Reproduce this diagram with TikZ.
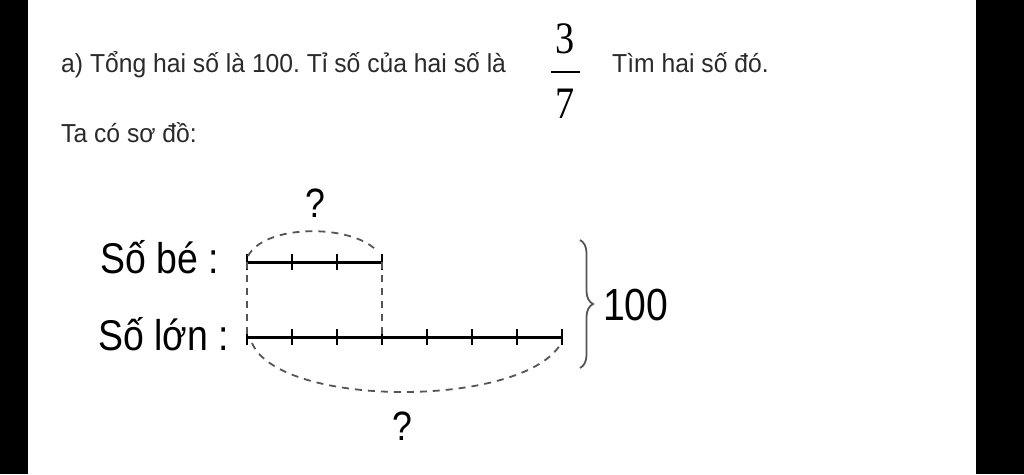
\documentclass[tikz,border=0pt]{standalone}
\usepackage{fontspec}
\setmainfont{Liberation Sans}
\newfontfamily\txtfont[FakeStretch=0.95]{Liberation Sans}
\newfontfamily\dgfont[FakeStretch=0.87]{Liberation Sans}
\newfontfamily\fracfont[FakeStretch=0.85]{Liberation Serif}
\usetikzlibrary{decorations.pathreplacing,calc}
\frenchspacing
\definecolor{txtgray}{HTML}{2A2A2A}
\definecolor{dashgray}{HTML}{555555}
\tikzset{
  body/.style={anchor=base west, inner sep=0pt, text=txtgray, font=\txtfont\fontsize{26}{30}\selectfont},
  fracdigit/.style={anchor=base, inner sep=0pt, text=black, font=\fracfont\fontsize{45}{50}\selectfont},
  dglabel/.style={anchor=base west, inner sep=0pt, text=black, font=\dgfont\fontsize{43}{48}\selectfont},
  qmark/.style={anchor=base, inner sep=0pt, text=black, font=\dgfont\fontsize{41}{46}\selectfont},
  segline/.style={line width=3pt, black},
  tickmark/.style={line width=2.2pt, black},
  dashline/.style={line width=1.8pt, dashgray, dash pattern=on 7pt off 6pt},
  bracestyle/.style={line width=1.8pt, dashgray, decorate, decoration={brace, amplitude=13pt}}
}
\begin{document}
\begin{tikzpicture}[x=1pt,y=-1pt]
\useasboundingbox (0,0) rectangle (1024,474);
\fill[black] (0,0) rectangle (1024,474);
\fill[white] (28,0) rectangle (976,474);

% question text
\node[body] (q1) at (61,72) {a) Tổng hai số là 100. Tỉ số của hai số là};
\node[fracdigit] (num) at (565,53) {3};
\node[fracdigit] (den) at (565,118) {7};
\coordinate (barL) at (551,72);
\coordinate (barR) at (580,72);
\draw[line width=2pt, black] (barL) -- (barR);
\node[body] (q2) at (612,72) {Tìm hai số đó.};
\node[body] (q3) at (61,142) {Ta có sơ đồ:};

% diagram labels
\node[dglabel] (small) at (100,273) {Số bé :};
\node[dglabel] (large) at (98,350) {Số lớn :};

% segments
\coordinate (b0) at (247,262);
\coordinate (b3) at (382,262);
\coordinate (l0) at (247,337);
\coordinate (l3) at (382,337);
\coordinate (l7) at (562,337);
\draw[segline] (b0) -- (b3);
\draw[segline] (l0) -- (l7);
\foreach \i in {0,1,2,3} {
  \draw[tickmark] ($(b0)+(\i*45,-8)$) -- ($(b0)+(\i*45,8)$);
}
\foreach \i in {0,...,7} {
  \draw[tickmark] ($(l0)+(\i*45,-8)$) -- ($(l0)+(\i*45,8)$);
}

% dashed guides
\draw[dashline] (b0) -- (l0);
\draw[dashline] (b3) -- (l3);
\coordinate (tA) at (248,256);
\coordinate (tB) at (376,250);
\draw[dashline] (tA) .. controls (265,224) and (350,224) .. (tB);
\coordinate (uA) at (252,343);
\coordinate (uB) at (560,345);
\draw[dashline] (uA) .. controls (280,408) and (520,408) .. (uB);

\node[qmark] (qtop) at (315,217) {?};
\node[qmark] (qbot) at (402,440) {?};

% brace and total
\coordinate (brT) at (580,240);
\coordinate (brB) at (580,368);
\draw[bracestyle] (brT) -- (brB);
\node[dglabel, font=\dgfont\fontsize{45}{50}\selectfont] (total) at (603,320) {100};
\end{tikzpicture}
\end{document}
